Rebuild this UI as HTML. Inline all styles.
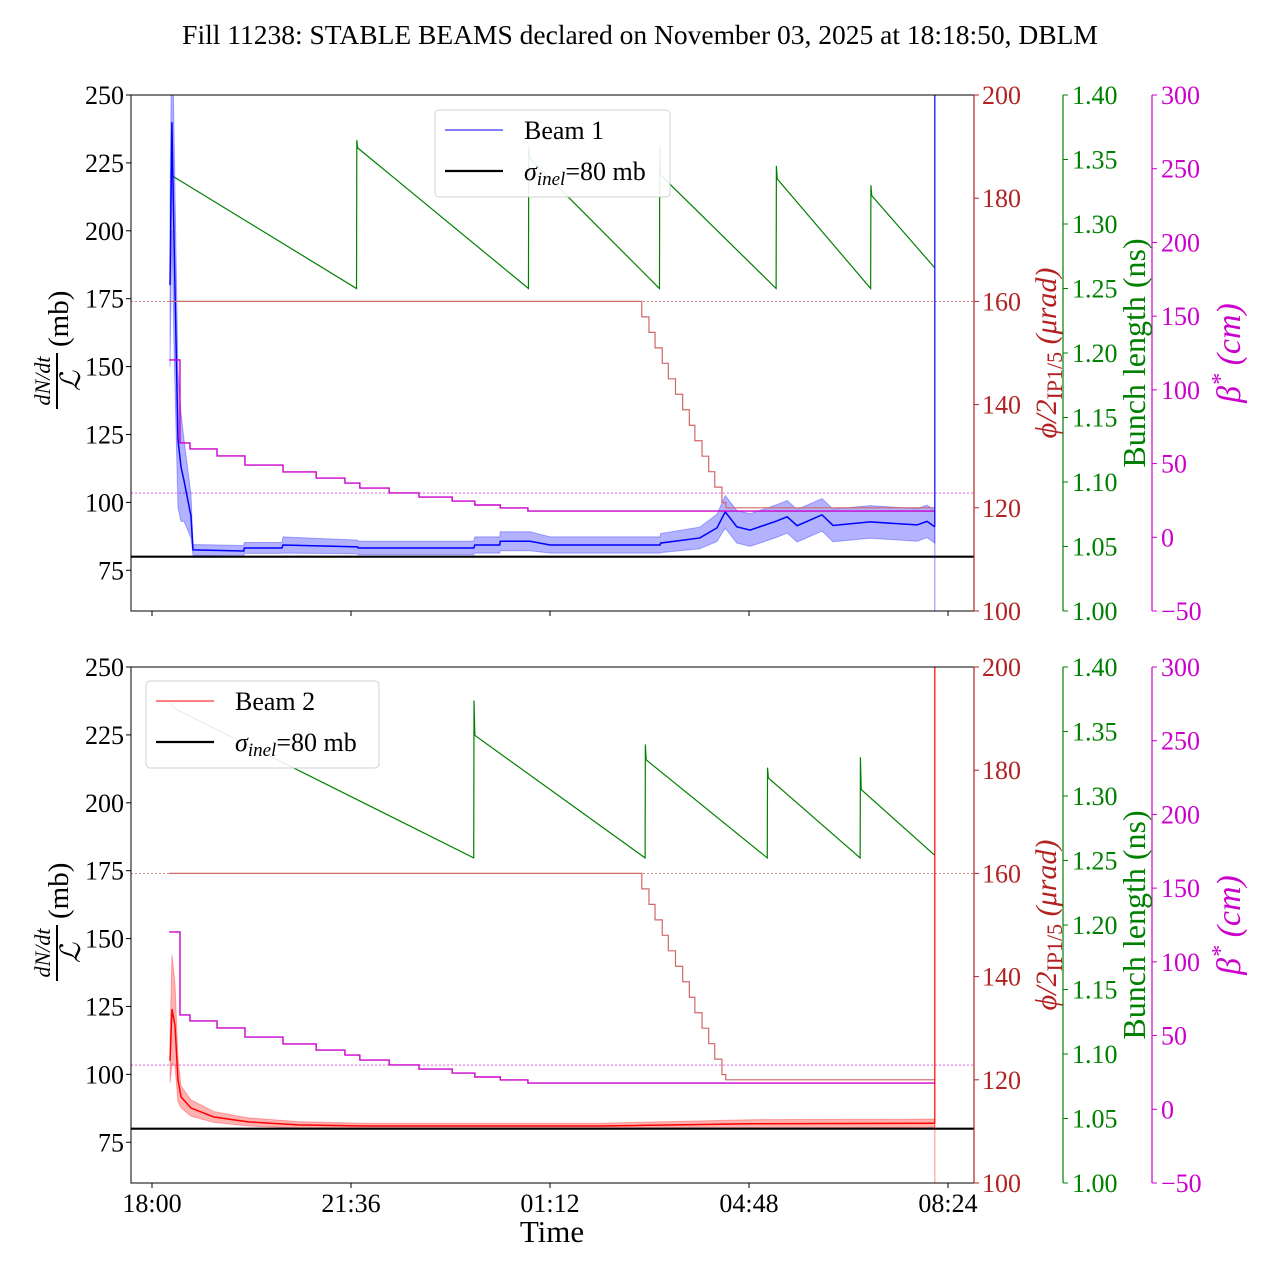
<!DOCTYPE html>
<html><head><meta charset="utf-8"><style>
html,body{margin:0;padding:0;background:#fff}
svg{display:block;font-family:"Liberation Serif",serif}
</style></head><body>
<svg id="chart" width="1280" height="1280" viewBox="0 0 1280 1280" xmlns="http://www.w3.org/2000/svg">
<text x="640" y="44" font-size="27.5" text-anchor="middle">Fill 11238: STABLE BEAMS declared on November 03, 2025 at 18:18:50, DBLM</text>
</svg>
<script>
// ---- data (time in hours since 18:00) ----
const b1T=[0.326,0.36,0.40,0.47,0.525,0.579,0.705,0.742,1.66,1.67,2.35,2.37,3.72,3.73,5.82,5.84,6.29,6.30,6.84,7.2,9.19,9.2,9.91,10.22,10.37,10.58,10.82,11.31,11.49,11.67,12.12,12.32,12.99,13.84,14.02,14.16];
const b1V=[180,240,195,123,113,108,95,82.5,82.1,83.2,83.2,84.3,83.6,83.2,83.2,84.3,84.3,85.7,85.7,84.3,84.3,85,86.9,90.6,96.5,91,89.8,93.2,94.7,91.4,95.4,91.5,92.8,91.7,93,91];
const b1Err=[30,40,40,25,20,15,8,2,2,2,2,3,2.5,2.5,2.5,3,3,3.5,3.5,3,3,3.5,4,5,6,6,6,6,6,6,6,6,6,6,6,6];
const b2T=[0.326,0.362,0.416,0.470,0.525,0.705,1.12,1.74,2.64,3.83,8.10,10.82,14.16];
const b2V=[105,124,118,98,91.7,87.6,84.3,82.5,81.4,81,81,81.8,82];
const b2Err=[8,20,15,8,4,3,2,1.5,1.2,1,1,1.5,1.5];
const bl1T=[0.34,3.70,3.705,3.72,6.81,6.815,6.83,9.18,9.185,9.2,11.29,11.295,11.31,13.0,13.005,13.02,14.16];
const bl1V=[1.338,1.250,1.365,1.359,1.250,1.36,1.351,1.250,1.36,1.338,1.250,1.345,1.335,1.250,1.33,1.322,1.266];
const bl2T=[0.34,0.40,5.82,5.825,5.84,8.92,8.925,8.94,11.13,11.135,11.15,12.81,12.815,12.83,14.16];
const bl2V=[1.372,1.368,1.252,1.374,1.347,1.252,1.34,1.328,1.252,1.322,1.314,1.252,1.33,1.305,1.254];
const betaT=[0.31,0.506,0.687,1.176,1.682,2.37,2.97,3.49,3.76,4.29,4.83,5.43,5.84,6.30,6.80,14.16];
const betaV=[120.3,64,59.9,55.2,49,44.3,40.2,36.8,33.4,30.1,27.3,24.6,21.9,19.9,17.8];
const angT=[0.31,8.86,8.99,9.10,9.23,9.34,9.47,9.60,9.72,9.82,9.95,10.07,10.18,10.31,10.38,14.16];
const angV=[160,157,154,151,148,145,142,139,136,133,130,127,124,121,120];
const xTickT=[0,3.6,7.2,10.8,14.4];
const xTickL=['18:00','21:36','01:12','04:48','08:24'];
const yTicks=[75,100,125,150,175,200,225,250];
const rTicks=[100,120,140,160,180,200];
const gTicks=[1.00,1.05,1.10,1.15,1.20,1.25,1.30,1.35,1.40];
const mTicks=[-50,0,50,100,150,200,250,300];

const NS='http://www.w3.org/2000/svg';
const svg=document.getElementById('chart');
function mk(tag,attrs,parent,text){const e=document.createElementNS(NS,tag);for(const k in attrs)e.setAttribute(k,attrs[k]);if(text!==undefined)e.textContent=text;(parent||svg).appendChild(e);return e;}
const X0=131,X1=974;
const xS=t=>152+t*55.28;
const RED='#b22222',GRN='#008000',MAG='#cc00cc';
const FS=26;

function panel(off,isTop){
  const T=95+off,B=611+off,H=516;
  const yL=v=>T+(250-v)*H/190, yR=v=>T+(200-v)*H/100, yG=v=>T+(1.4-v)*H/0.4, yM=v=>T+(300-v)*H/350;
  const g=mk('g',{},svg);
  
  
  const clip=mk('clipPath',{id:'clip'+off},g);mk('rect',{x:X0,y:T,width:X1-X0,height:H},clip);
  const pg=mk('g',{'clip-path':'url(#clip'+off+')'},g);
  let l=mk('line',{x1:X0,x2:X1,y1:yR(160),y2:yR(160),stroke:RED,'stroke-width':0.8,'stroke-dasharray':'2,2',opacity:0.7},pg);
  
  l=mk('line',{x1:X0,x2:X1,y1:yM(30),y2:yM(30),stroke:MAG,'stroke-width':0.8,'stroke-dasharray':'2,2',opacity:0.7},pg);
  
  const step=(T_,V_,fy)=>{let d='M'+xS(T_[0])+','+fy(V_[0]);for(let i=0;i<V_.length;i++){d+=' L'+xS(T_[i])+','+fy(V_[i])+' L'+xS(T_[i+1])+','+fy(V_[i]);}return d;};
  const gT=isTop?bl1T:bl2T,gV=isTop?bl1V:bl2V;
  let p=mk('path',{d:gT.map((t,i)=>(i?'L':'M')+xS(t)+','+yG(gV[i])).join(' '),fill:'none',stroke:GRN,'stroke-width':1.2},pg);
  
  const bT=isTop?b1T:b2T,bV=isTop?b1V:b2V,bE=isTop?b1Err:b2Err,col=isTop?'#0000ff':'#ff0000';
  let d=bT.map((t,i)=>(i?'L':'M')+xS(t)+','+yL(bV[i]+bE[i])).join(' ');
  for(let i=bT.length-1;i>=0;i--)d+=' L'+xS(bT[i])+','+yL(bV[i]-bE[i]);
  p=mk('path',{d:d+'Z',fill:col,'fill-opacity':0.3,stroke:col,'stroke-opacity':0.3,'stroke-width':1},pg);
  
  p=mk('path',{d:bT.map((t,i)=>(i?'L':'M')+xS(t)+','+yL(bV[i])).join(' '),fill:'none',stroke:col,'stroke-width':1.5},pg);
  
  p=mk('path',{d:step(angT,angV,yR),fill:'none',stroke:'#d06868','stroke-width':1.2},pg);
  
  p=mk('path',{d:step(betaT,betaV,yM),fill:'none',stroke:MAG,'stroke-width':1.4},pg);
  
  l=mk('line',{x1:X0,x2:X1,y1:yL(80),y2:yL(80),stroke:'#000','stroke-width':2.2},pg);
  
  const xe=xS(b1T[b1T.length-1]);
  l=mk('line',{x1:xe,x2:xe,y1:T,y2:yL(bV[bV.length-1]),stroke:col,'stroke-width':1.5,opacity:0.8},pg);
  
  mk('line',{x1:xe,x2:xe,y1:yL(bV[bV.length-1]),y2:B,stroke:col,'stroke-width':1.5,opacity:0.3},pg);
  let r=mk('rect',{x:X0,y:T,width:X1-X0,height:H,fill:'none',stroke:'#000','stroke-width':1},g);
  
  yTicks.forEach(v=>{mk('line',{x1:X0-5,x2:X0,y1:yL(v),y2:yL(v),stroke:'#000'},g);
    const t=mk('text',{x:X0-7,y:yL(v)+9,'font-size':FS,'text-anchor':'end'},g,String(v));
    });
  mk('line',{x1:X1,x2:X1,y1:T,y2:B,stroke:RED,'stroke-width':1.2},g);
  rTicks.forEach(v=>{mk('line',{x1:X1,x2:X1+5,y1:yR(v),y2:yR(v),stroke:RED},g);
    const t=mk('text',{x:X1+8,y:yR(v)+9,'font-size':FS,fill:RED},g,String(v));
    });
  const GX=1063;
  mk('line',{x1:GX,x2:GX,y1:T,y2:B,stroke:GRN,'stroke-width':1.2},g);
  gTicks.forEach(v=>{mk('line',{x1:GX,x2:GX+5,y1:yG(v),y2:yG(v),stroke:GRN},g);
    const t=mk('text',{x:GX+9,y:yG(v)+9,'font-size':FS,fill:GRN},g,v.toFixed(2));
    });
  const MX=1152;
  mk('line',{x1:MX,x2:MX,y1:T,y2:B,stroke:MAG,'stroke-width':1.2},g);
  mTicks.forEach(v=>{mk('line',{x1:MX,x2:MX+5,y1:yM(v),y2:yM(v),stroke:MAG},g);
    const t=mk('text',{x:MX+9,y:yM(v)+9,'font-size':FS,fill:MAG},g,(v<0?'\u2212'+(-v):String(v)));
    });
  xTickT.forEach((tt,i)=>{mk('line',{x1:xS(tt),x2:xS(tt),y1:B,y2:B+5,stroke:'#000'},g);
    if(!isTop){const t=mk('text',{x:xS(tt),y:B+29,'font-size':FS,'text-anchor':'middle'},g,xTickL[i]);
      }});
  const cy=(T+B)/2;
  let a=mk('g',{transform:`translate(60,${cy}) rotate(-90)`},g);
  
  mk('text',{x:-28,y:-10,'font-size':22,'font-style':'italic','text-anchor':'middle'},a,'dN/dt');
  mk('line',{x1:-56,x2:0,y1:-3,y2:-3,stroke:'#000','stroke-width':2},a);
  mk('text',{x:-28,y:20,'font-size':28,'font-style':'italic','text-anchor':'middle'},a,'\u2112');
  mk('text',{x:6,y:8,'font-size':29},a,'(mb)');
  a=mk('text',{transform:`translate(1056,${cy}) rotate(-90)`,'font-size':30,fill:RED,'text-anchor':'middle'},g);
  
  mk('tspan',{'font-style':'italic'},a,'\u03d5/2');mk('tspan',{'font-size':22,dy:6},a,'IP1/5');mk('tspan',{dy:-6,'font-style':'italic'},a,' (\u03bcrad)');
  a=mk('text',{transform:`translate(1145,${cy}) rotate(-90)`,'font-size':32,fill:GRN,'text-anchor':'middle'},g,'Bunch length (ns)');
  
  a=mk('text',{transform:`translate(1240,${cy}) rotate(-90)`,'font-size':34,fill:MAG,'text-anchor':'middle','font-style':'italic'},g);
  
  mk('tspan',{},a,'\u03b2');mk('tspan',{dy:-12,'font-size':24},a,'*');mk('tspan',{dy:12},a,' (cm)');
  const lx=isTop?435:146,ly=isTop?110:681;
  const lg=mk('g',{},g);
  
  mk('rect',{x:lx,y:ly,width:isTop?235:233,height:87,rx:4,fill:'#fff',stroke:'#ccc','stroke-width':1,opacity:0.9},lg);
  mk('line',{x1:lx+10,x2:lx+68,y1:ly+20,y2:ly+20,stroke:isTop?'#0000ff':'#ff0000','stroke-width':1},lg);
  let e=mk('text',{x:lx+89,y:ly+29,'font-size':26},lg,isTop?'Beam 1':'Beam 2');
  
  mk('line',{x1:lx+10,x2:lx+68,y1:ly+61,y2:ly+61,stroke:'#000','stroke-width':2.2},lg);
  e=mk('text',{x:lx+89,y:ly+70,'font-size':26},lg);
  
  mk('tspan',{'font-style':'italic'},e,'\u03c3');mk('tspan',{'font-style':'italic','font-size':19,dy:5},e,'inel');mk('tspan',{dy:-5},e,'=80 mb');
}
panel(0,true);
panel(572,false);
const xt=mk('text',{x:552,y:1242,'font-size':31,'text-anchor':'middle'},svg,'Time');


</script>
</body></html>
